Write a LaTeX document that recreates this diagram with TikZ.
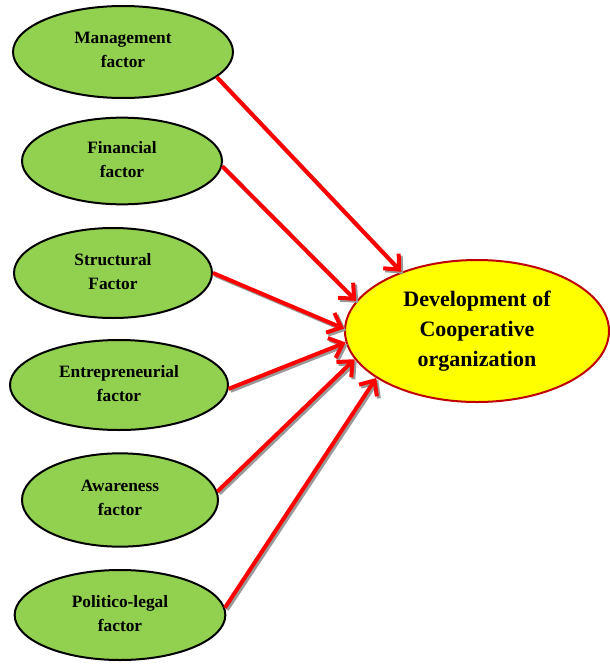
\documentclass[tikz,border=0pt]{standalone}
\usepackage{fontspec}
\setmainfont{Liberation Serif}
\usetikzlibrary{shapes.geometric,arrows.meta}
\definecolor{factorgreen}{HTML}{92D050}
\definecolor{outyellow}{HTML}{FFFF00}
\definecolor{outred}{HTML}{C00000}
\definecolor{arrowred}{HTML}{FF0000}
\begin{document}
\begin{tikzpicture}[x=0.75pt,y=-0.75pt,
  factor/.style={ellipse, draw=black, line width=1.5pt, fill=factorgreen,
    inner sep=0pt, align=center, font=\bfseries\fontsize{13}{18}\selectfont},
  outcome/.style={ellipse, draw=outred, line width=1.5pt, fill=outyellow,
    inner sep=0pt, align=center, font=\bfseries\fontsize{16.5}{22.5}\selectfont},
  link/.style={draw=arrowred, line width=3pt, -{Straight Barb[length=9pt,width=16pt]}},
  linkshadow/.style={draw=black!40, line width=3pt, -{Straight Barb[length=9pt,width=16pt]},
    transform canvas={xshift=1.5pt, yshift=-1.5pt}}
]
\useasboundingbox (0,0) rectangle (610,664);
\node[factor, minimum width=165pt, minimum height=69pt, text depth=3pt] (m) at (123,52) {Management\\factor};
\node[factor, minimum width=150pt, minimum height=65pt, text depth=3pt] (f) at (122,161) {Financial\\factor};
\node[factor, minimum width=148.5pt, minimum height=67.5pt, text depth=3pt] (s) at (113,273) {Structural\\Factor};
\node[factor, minimum width=163.5pt, minimum height=67.5pt, text depth=3pt] (e) at (119,385) {Entrepreneurial\\factor};
\node[factor, minimum width=147pt, minimum height=70pt, text depth=3pt] (a) at (120,500) {Awareness\\factor};
\node[factor, minimum width=158pt, minimum height=67.5pt, text depth=3pt] (p) at (120,615) {Politico-legal\\factor};
\node[outcome, minimum width=198pt, minimum height=106.5pt] (d) at (477,331) {Development of\\Cooperative\\organization};
\foreach \src/\sa/\da in {m/-15/142, f/-3/166, s/0/179, e/-2/185, a/5/193, p/4/205}{
  \draw[linkshadow] (\src.\sa) -- (d.\da);
}
\foreach \src/\sa/\da in {m/-15/142, f/-3/166, s/0/179, e/-2/185, a/5/193, p/4/205}{
  \draw[link] (\src.\sa) -- (d.\da);
}
\end{tikzpicture}
\end{document}
